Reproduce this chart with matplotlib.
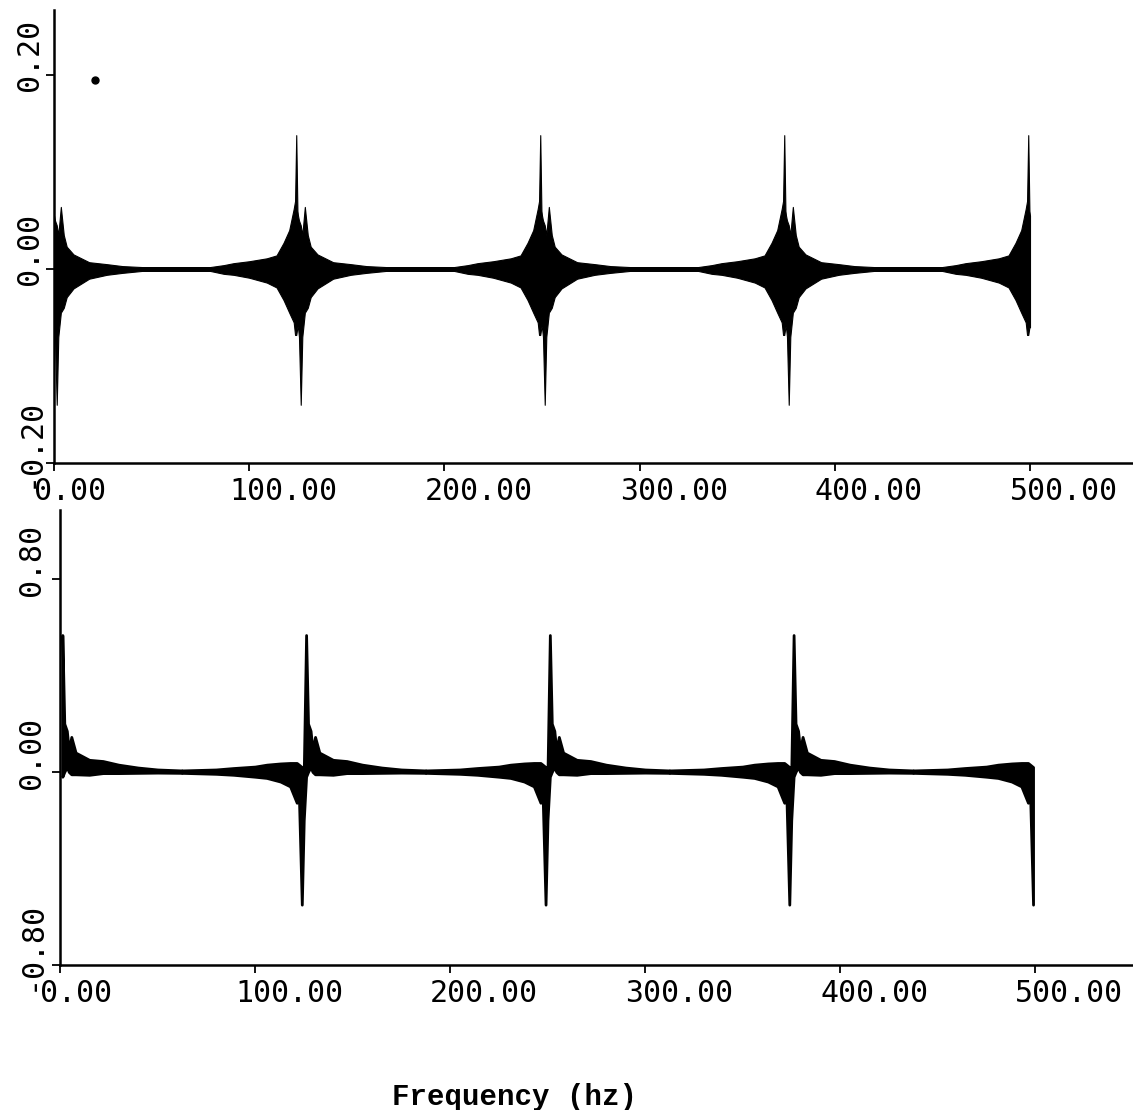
"""Two-panel frequency response plot (old plotter style) -> out.png."""
import matplotlib
matplotlib.use("Agg")  # no display
import matplotlib.pyplot as plt
import numpy as np
from matplotlib.transforms import ScaledTranslation

# burst centres (Hz), the same in both panels
burst_centers = [0, 125, 250, 375, 500]

# upper panel: envelope of the dense oscillation around one burst
top_offset = [-62.5, -45, -38, -33, -25, -16, -11, -7.4, -4.5, -2.2,
              -1.5, -0.9, -0.3, 0, 0.5, 1.4, 2.2, 3.5, 5, 6.5,
              10, 18, 27, 35, 45, 62.5]
top_upper = [0.002, 0.002, 0.004, 0.006, 0.008, 0.011, 0.014, 0.027, 0.040, 0.062,
             0.070, 0.138, 0.060, 0.055, 0.050, 0.045, 0.035, 0.064, 0.035, 0.023,
             0.015, 0.007, 0.005, 0.003, 0.002, 0.002]
top_lower = [-0.002, -0.002, -0.005, -0.006, -0.009, -0.014, -0.019, -0.032, -0.045, -0.055,
             -0.068, -0.068, -0.060, -0.060, -0.070, -0.140, -0.070, -0.045, -0.040, -0.029,
             -0.020, -0.010, -0.006, -0.004, -0.002, -0.002]
top_dot_freq = [21]
top_dot_value = [0.195]

# lower panel: envelope around one burst
bot_offset = [-62.5, -45, -36, -25, -19, -12, -7, -3.6, -2.5, -1.0,
              0, 1.2, 2.2, 3.5, 4.5, 5.8, 8, 15, 22, 30,
              40, 50, 62.5]
bot_upper = [0.006, 0.010, 0.016, 0.022, 0.030, 0.035, 0.037, 0.037, 0.030, 0.020,
             0.000, 0.567, 0.200, 0.170, 0.090, 0.145, 0.080, 0.050, 0.045, 0.030,
             0.018, 0.010, 0.006]
bot_lower = [-0.004, -0.008, -0.012, -0.020, -0.025, -0.040, -0.060, -0.128, -0.100, -0.550,
             -0.200, -0.020, 0.000, 0.020, 0.000, -0.010, -0.010, -0.012, -0.005, -0.005,
             -0.004, -0.003, -0.004]

x_ticks = [0, 100, 200, 300, 400, 500]
x_tick_labels = ["0.00", "100.00", "200.00", "300.00", "400.00", "500.00"]
top_y_ticks = [-0.20, 0.00, 0.20]
top_y_labels = ["-0.20", "0.00", "0.20"]
bot_y_ticks = [-0.80, 0.00, 0.80]
bot_y_labels = ["-0.80", "0.00", "0.80"]

TICK_FONT = "DejaVu Sans Mono"
TICK_SIZE = 21.5
DPI = 100


def draw_bursts(ax, offset, upper, lower, fmin, fmax, lw):
    offset = np.asarray(offset)
    upper = np.asarray(upper)
    lower = np.asarray(lower)
    for c in burst_centers:
        f = c + offset
        keep = (f >= fmin) & (f <= fmax)
        ax.fill_between(f[keep], lower[keep], upper[keep], color="black",
                        edgecolor="black", linewidth=lw)


def style_axes(fig, ax, xmax, ylim, yticks, ylabels, ylab_dx, ylab_dy):
    ax.set_xlim(0, xmax)
    ax.set_ylim(*ylim)
    for side in ("top", "right"):
        ax.spines[side].set_visible(False)
    for side in ("left", "bottom"):
        ax.spines[side].set_linewidth(1.8)
    ax.set_xticks(x_ticks)
    ax.set_yticks(yticks)
    ax.set_xticklabels([])
    ax.set_yticklabels([])
    ax.tick_params(length=6, width=1.3, direction="out")

    xt = ax.get_xaxis_transform() + ScaledTranslation(-20 / DPI, -28 / DPI, fig.dpi_scale_trans)
    for t, lab in zip(x_ticks, x_tick_labels):
        ax.text(t, 0, lab, transform=xt, ha="left", va="center",
                family=TICK_FONT, fontsize=TICK_SIZE, clip_on=False)

    yt = ax.get_yaxis_transform() + ScaledTranslation(ylab_dx / DPI, ylab_dy / DPI, fig.dpi_scale_trans)
    for t, lab in zip(yticks, ylabels):
        ax.text(0, t, lab, transform=yt, rotation=90, ha="center", va="center",
                family=TICK_FONT, fontsize=TICK_SIZE, clip_on=False)


fig = plt.figure(figsize=(11.33, 11.10), dpi=DPI)

ax1 = fig.add_axes([54 / 1133, 1 - 463 / 1110, 1 - 54 / 1133, (463 - 10) / 1110])
draw_bursts(ax1, top_offset, top_upper, top_lower, 0, 500, 0.8)
ax1.plot(top_dot_freq, top_dot_value, "o", color="black", ms=5)
style_axes(fig, ax1, (1133 - 54) / 1.952, (-0.20, 0.267),
           top_y_ticks, top_y_labels, -24, 20)

ax2 = fig.add_axes([60 / 1133, 1 - 965 / 1110, 1 - 60 / 1133, (965 - 510) / 1110])
draw_bursts(ax2, bot_offset, bot_upper, bot_lower, 1.0, 499, 2.0)
style_axes(fig, ax2, (1133 - 60) / 1.95, (-0.80, 1.085),
           bot_y_ticks, bot_y_labels, -29, 19)

fig.text(515 / 1133, 1 - 1097 / 1110, "Frequency (hz)", family="Liberation Mono",
         fontsize=21, fontweight="bold", ha="center", va="center")

fig.savefig("out.png", dpi=DPI)
plt.close(fig)
